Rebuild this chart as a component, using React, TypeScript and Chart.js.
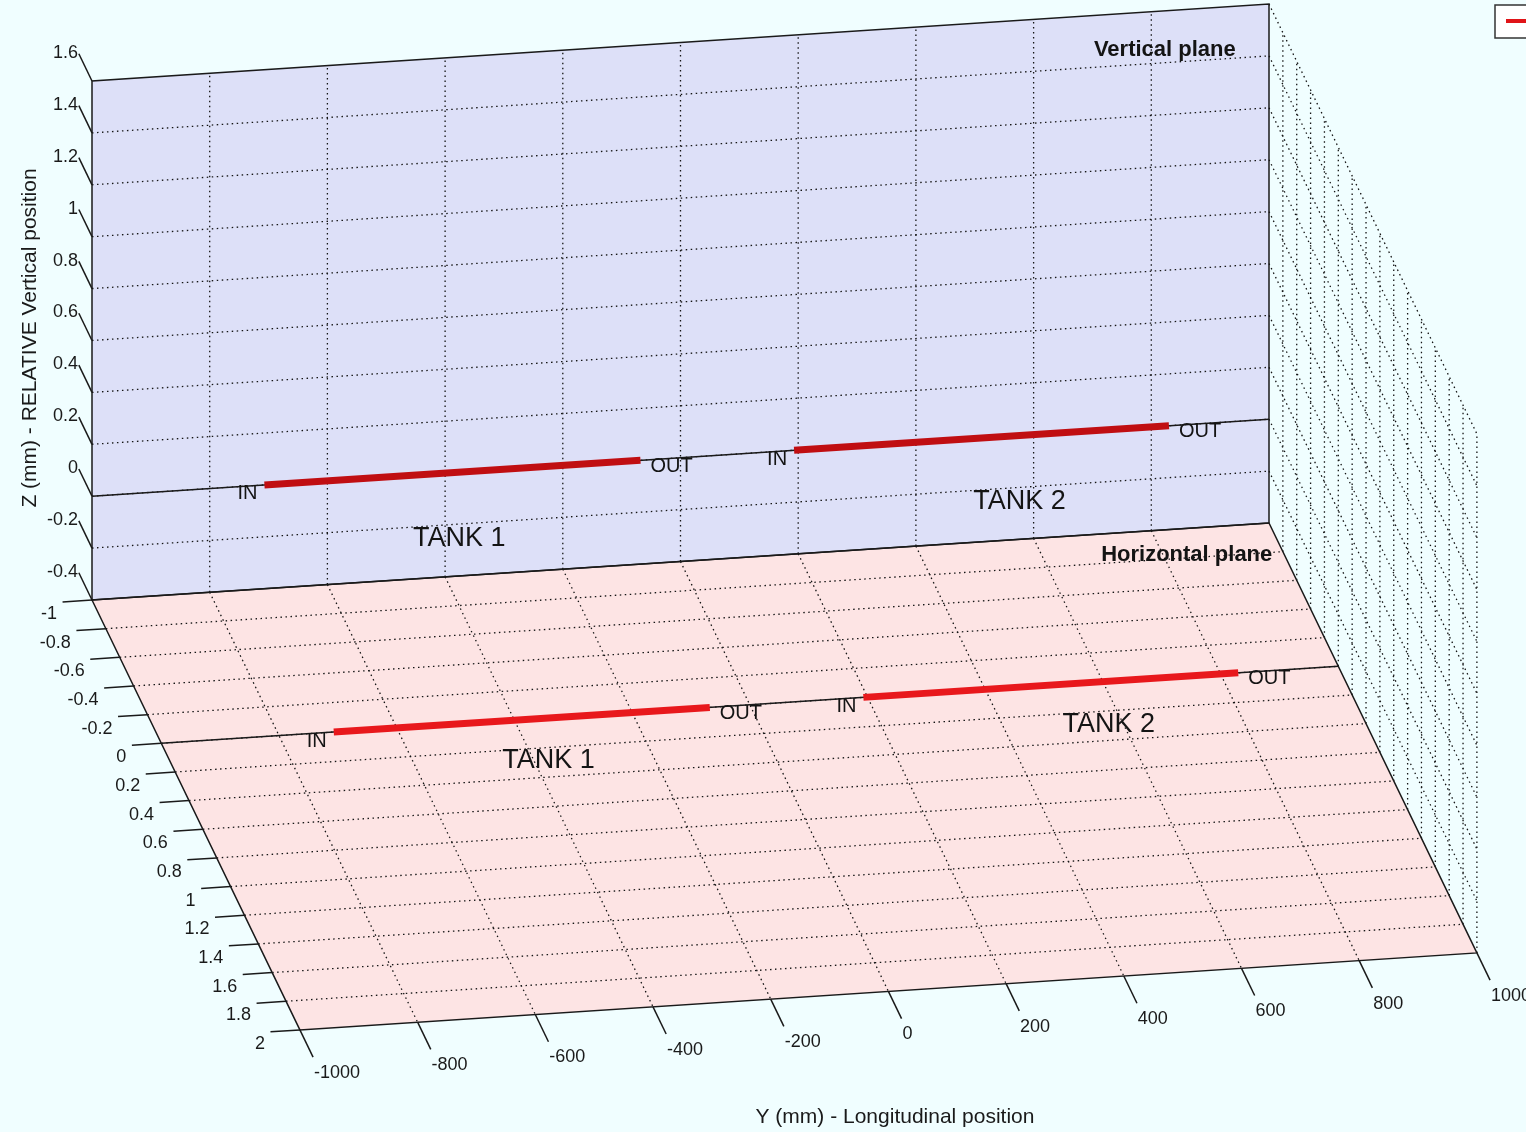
import React, { useEffect, useRef } from "react";
import { Chart, registerables } from "chart.js";

Chart.register(...registerables);

const W = 1526;
const H = 1132;

// ---- axis ranges and ticks ----
const yRange = [-1000, 1000]; // Y (mm) longitudinal
const xRange = [-1, 2]; // X (mm) lateral
const zRange = [-0.4, 1.6]; // Z (mm) vertical
const yTicks = [-1000, -800, -600, -400, -200, 0, 200, 400, 600, 800, 1000];
const xTicks = [-1, -0.8, -0.6, -0.4, -0.2, 0, 0.2, 0.4, 0.6, 0.8, 1, 1.2, 1.4, 1.6, 1.8, 2];
const zTicks = [-0.4, -0.2, 0, 0.2, 0.4, 0.6, 0.8, 1, 1.2, 1.4, 1.6];

// ---- tanks ----
const tankNames = ["TANK 1", "TANK 2"];
const tankInY = [-707, 193];
const tankOutY = [-68, 830];
const tankLabelY = [-376, 576];
const tankZ = 0; // position on vertical plane
const tankX = 0; // position on horizontal plane
const wallX = -1; // vertical plane lies at X = -1
const floorZ = -0.4; // horizontal plane lies at Z = -0.4

// ---- orthographic view (screen units per data unit) ----
const ORIGIN = [92, 600];
const UY = [0.5885, -0.0385];
const UX = [69.3, 143.3];
const UZ = [0, -259.5];

function proj(y: number, x: number, z: number) {
  const dy = y - yRange[0];
  const dx = x - xRange[0];
  const dz = z - zRange[0];
  return {
    x: ORIGIN[0] + dy * UY[0] + dx * UX[0] + dz * UZ[0],
    y: ORIGIN[1] + dy * UY[1] + dx * UX[1] + dz * UZ[1],
  };
}

const FONT = "'Liberation Sans', Arial, Helvetica, sans-serif";
const fmt = (v: number) => String(Number(v.toFixed(2)));

const scenePlugin = {
  id: "scene3d",
  beforeDraw(chart: any) {
    const ctx = chart.ctx as CanvasRenderingContext2D;
    ctx.save();
    ctx.fillStyle = "#F0FEFF";
    ctx.fillRect(0, 0, chart.width, chart.height);
    ctx.restore();
  },
  beforeDatasetsDraw(chart: any) {
    const ctx = chart.ctx as CanvasRenderingContext2D;
    const sx = chart.scales.x;
    const sy = chart.scales.y;
    const P = (y: number, x: number, z: number): [number, number] => {
      const p = proj(y, x, z);
      return [sx.getPixelForValue(p.x), sy.getPixelForValue(p.y)];
    };
    const poly = (pts: [number, number][], fill?: string, stroke?: string) => {
      ctx.beginPath();
      pts.forEach((p, i) => (i ? ctx.lineTo(p[0], p[1]) : ctx.moveTo(p[0], p[1])));
      ctx.closePath();
      if (fill) {
        ctx.fillStyle = fill;
        ctx.fill();
      }
      if (stroke) {
        ctx.strokeStyle = stroke;
        ctx.stroke();
      }
    };
    const seg = (a: [number, number], b: [number, number]) => {
      ctx.beginPath();
      ctx.moveTo(a[0], a[1]);
      ctx.lineTo(b[0], b[1]);
      ctx.stroke();
    };
    const [y0, y1] = yRange;
    const [x0, x1] = xRange;
    const [z0, z1] = zRange;
    ctx.save();
    // plane fills
    poly([P(y0, wallX, z0), P(y0, wallX, z1), P(y1, wallX, z1), P(y1, wallX, z0)], "#DDE0F8");
    poly([P(y0, x0, floorZ), P(y0, x1, floorZ), P(y1, x1, floorZ), P(y1, x0, floorZ)], "#FDE4E4");

    // dotted grid
    ctx.lineWidth = 1.3;
    ctx.strokeStyle = "#151515";
    ctx.setLineDash([1.5, 3.5]);
    yTicks.slice(1, -1).forEach((yt) => {
      seg(P(yt, wallX, z0), P(yt, wallX, z1));
      seg(P(yt, x0, floorZ), P(yt, x1, floorZ));
    });
    zTicks.slice(1, -1).forEach((zt) => seg(P(y0, wallX, zt), P(y1, wallX, zt)));
    xTicks.slice(1, -1).forEach((xt) => seg(P(y0, xt, floorZ), P(y1, xt, floorZ)));
    // right side wall (Y = 1000), not filled
    xTicks.slice(1).forEach((xt) => seg(P(y1, xt, z0), P(y1, xt, z1)));
    zTicks.slice(1).forEach((zt) => seg(P(y1, x0, zt), P(y1, x1, zt)));
    ctx.setLineDash([]);

    // solid box edges
    ctx.lineWidth = 1.5;
    poly([P(y0, wallX, z0), P(y0, wallX, z1), P(y1, wallX, z1), P(y1, wallX, z0)], undefined, "#1a1a1a");
    poly([P(y0, x0, floorZ), P(y0, x1, floorZ), P(y1, x1, floorZ), P(y1, x0, floorZ)], undefined, "#1a1a1a");

    // ticks
    ctx.strokeStyle = "#1a1a1a";
    ctx.lineWidth = 1.5;
    zTicks.forEach((zt) => seg(P(y0, wallX, zt), P(y0, wallX - 0.19, zt)));
    xTicks.forEach((xt) => seg(P(y0, xt, floorZ), P(y0 - 50, xt, floorZ)));
    yTicks.forEach((yt) => seg(P(yt, x1, floorZ), P(yt, x1 + 0.19, floorZ)));

    // tick labels
    ctx.fillStyle = "#1a1a1a";
    ctx.font = `18px ${FONT}`;
    ctx.textBaseline = "middle";
    ctx.textAlign = "right";
    zTicks.forEach((zt) => {
      const b = P(y0, wallX, zt);
      ctx.fillText(fmt(zt), b[0] - 14, b[1] - 28);
    });
    xTicks.forEach((xt) => {
      const b = P(y0, xt, floorZ);
      ctx.fillText(fmt(xt), b[0] - 35, b[1] + 14);
    });
    ctx.textAlign = "left";
    yTicks.forEach((yt) => {
      const b = P(yt, x1, floorZ);
      ctx.fillText(fmt(yt), b[0] + 14, b[1] + 43);
    });
    ctx.restore();
  },
  afterDatasetsDraw(chart: any) {
    const ctx = chart.ctx as CanvasRenderingContext2D;
    const sx = chart.scales.x;
    const sy = chart.scales.y;
    const P = (y: number, x: number, z: number): [number, number] => {
      const p = proj(y, x, z);
      return [sx.getPixelForValue(p.x), sy.getPixelForValue(p.y)];
    };
    ctx.save();
    ctx.fillStyle = "#141414";
    ctx.textBaseline = "middle";
    // IN / OUT / TANK labels on both planes
    const planes = [
      { at: (y: number) => P(y, wallX, tankZ), label: (y: number) => P(y, wallX, tankZ - 0.255) },
      { at: (y: number) => P(y, tankX, floorZ), label: (y: number) => P(y, tankX + 0.29, floorZ) },
    ];
    planes.forEach((pl) => {
      tankNames.forEach((name, i) => {
        ctx.font = `20px ${FONT}`;
        const a = pl.at(tankInY[i]);
        ctx.textAlign = "right";
        ctx.fillText("IN", a[0] - 7, a[1] + 9);
        const b = pl.at(tankOutY[i]);
        ctx.textAlign = "left";
        ctx.fillText("OUT", b[0] + 10, b[1] + 6);
        ctx.font = `27px ${FONT}`;
        ctx.textAlign = "center";
        const c = pl.label(tankLabelY[i]);
        ctx.fillText(name, c[0], c[1]);
      });
    });
    // plane titles
    ctx.font = `bold 22px ${FONT}`;
    ctx.textAlign = "center";
    const vp = P(823, wallX, 1.45);
    ctx.fillText("Vertical plane", vp[0], vp[1]);
    const hp = P(839, -0.82, floorZ);
    ctx.fillText("Horizontal plane", hp[0], hp[1]);

    // axis titles
    ctx.font = `21px ${FONT}`;
    ctx.fillStyle = "#1a1a1a";
    ctx.fillText("Y (mm) - Longitudinal position", 895, 1117);
    ctx.save();
    ctx.translate(30, 338);
    ctx.rotate(-Math.PI / 2);
    ctx.fillText("Z (mm) - RELATIVE Vertical position", 0, 0);
    ctx.restore();

    // legend (cut by the right edge)
    ctx.fillStyle = "#FFFFFF";
    ctx.fillRect(1495, 5, 80, 33);
    ctx.strokeStyle = "#333";
    ctx.lineWidth = 1.5;
    ctx.strokeRect(1495, 5, 80, 33);
    ctx.strokeStyle = "#E01418";
    ctx.lineWidth = 4;
    ctx.beginPath();
    ctx.moveTo(1506, 21);
    ctx.lineTo(1560, 21);
    ctx.stroke();
    ctx.restore();
  },
};

export default function App() {
  const ref = useRef<HTMLCanvasElement | null>(null);
  useEffect(() => {
    document.body.style.margin = "0";
    document.body.style.background = "#F0FEFF";
    if (!ref.current) return;
    const line = (data: { x: number; y: number }[], color: string, width: number, order: number) => ({
      data,
      borderColor: color,
      backgroundColor: color,
      borderWidth: width,
      showLine: true,
      pointRadius: 0,
      borderCapStyle: "butt" as const,
      order,
    });
    const datasets: any[] = [
      line([proj(yRange[0], wallX, tankZ), proj(yRange[1], wallX, tankZ)], "#1a1a1a", 1.5, 2),
      line([proj(yRange[0], tankX, floorZ), proj(yRange[1], tankX, floorZ)], "#1a1a1a", 1.5, 2),
    ];
    tankNames.forEach((_, i) => {
      datasets.push(line([proj(tankInY[i], wallX, tankZ), proj(tankOutY[i], wallX, tankZ)], "#C00E12", 7, 0));
      datasets.push(line([proj(tankInY[i], tankX, floorZ), proj(tankOutY[i], tankX, floorZ)], "#E8181C", 7, 0));
    });
    const chart = new Chart(ref.current, {
      type: "scatter",
      data: { datasets },
      options: {
        animation: false,
        responsive: false,
        maintainAspectRatio: false,
        layout: { padding: 0 },
        events: [],
        scales: {
          x: { type: "linear", min: 0, max: W, display: false },
          y: { type: "linear", min: 0, max: H, reverse: true, display: false },
        },
        plugins: { legend: { display: false }, tooltip: { enabled: false } },
      },
      plugins: [scenePlugin],
    });
    return () => chart.destroy();
  }, []);
  return (
    <div style={{ position: "fixed", left: 0, top: 0, width: W, height: H }}>
      <canvas ref={ref} width={W} height={H} style={{ display: "block" }} />
    </div>
  );
}
